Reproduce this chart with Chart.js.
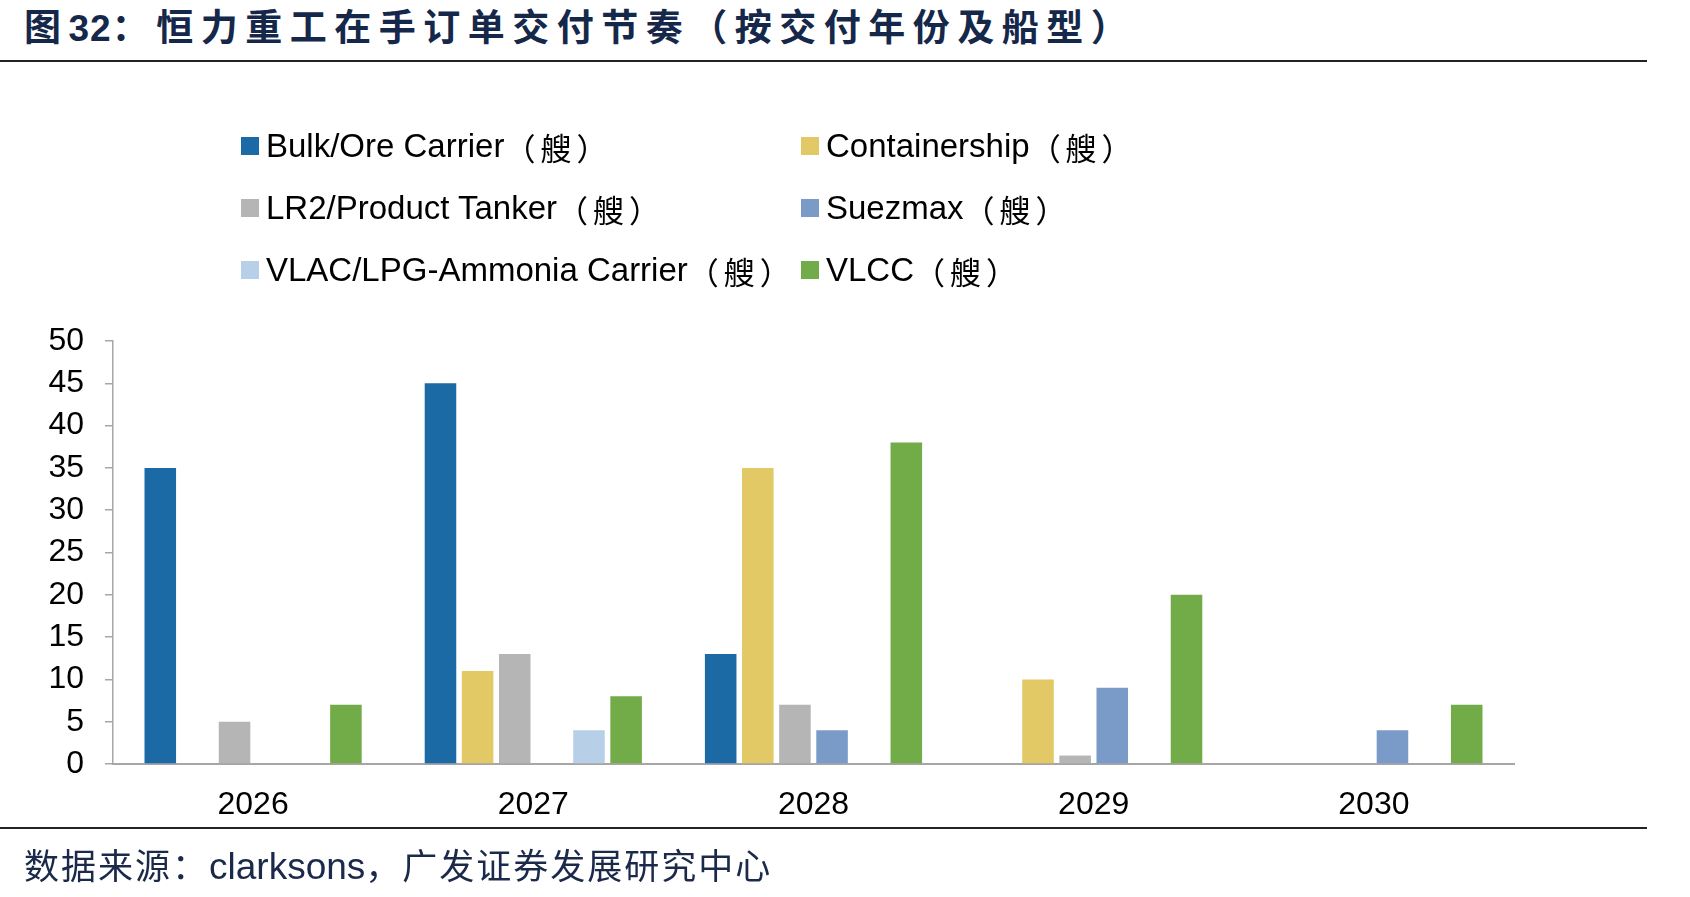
<!DOCTYPE html>
<html>
<head>
<meta charset="utf-8">
<script src="https://cdn.jsdelivr.net/npm/chart.js@4.4.1/dist/chart.umd.min.js"></script>
<style>
    html, body { margin: 0; padding: 0; background: #fff; }
    body { width: 1690px; height: 897px; position: relative; overflow: hidden; }
    #fleetChart { position: absolute; left: 0; top: 0; }
    .title {
        position: absolute; left: 24px; top: -2px;
        font-family: 'Noto Sans CJK SC', sans-serif; font-weight: 700;
        font-size: 37px; letter-spacing: 7.5px; color: #15284a; white-space: nowrap;
    }
    .title .num { font-family: 'Liberation Sans', sans-serif; letter-spacing: 1px; }
    .rule { position: absolute; left: 0; width: 1647px; height: 2px; background: #222; }
    .source {
        position: absolute; left: 24px; top: 838px;
        font-family: 'Noto Sans CJK SC', sans-serif; font-size: 35px; letter-spacing: 2px;
        color: #1b2a4a; white-space: nowrap;
    }
    .source .lat { font-family: 'Liberation Sans', sans-serif; font-size: 37px; letter-spacing: 0; margin-left: 0; }
    .legend-item {
        position: absolute; height: 40px; display: flex; align-items: center;
        font-family: 'Liberation Sans', sans-serif;
        font-size: 33px; color: #000; white-space: nowrap;
    }
    .legend-item i { display: inline-block; width: 18px; height: 18px; margin-right: 7px; }
    .legend-item .unit {
        font-family: 'Noto Sans CJK SC', sans-serif; font-size: 31px;
        letter-spacing: 5px; margin-left: 0;
    }
</style>
</head>
<body>
<div class="title">图<span class="num">32</span>：恒力重工在手订单交付节奏（按交付年份及船型）</div>
<div class="rule" style="top:60px"></div>
<canvas id="fleetChart" width="1690" height="897"></canvas>
<div id="legend"></div>
<div class="rule" style="top:827px"></div>
<div class="source">数据来源：<span class="lat">clarksons</span>，广发证券发展研究中心</div>

<script>
// delivery years
const years = ['2026', '2027', '2028', '2029', '2030'];

// ships per year
const bulkOre    = [35, 45, 13, 0, 0];
const container  = [0, 11, 35, 10, 0];
const lr2Tanker  = [5, 13, 7, 1, 0];
const suezmax    = [0, 0, 4, 9, 4];
const vlacLpg    = [0, 4, 0, 0, 0];
const vlcc       = [7, 8, 38, 20, 7];

const seriesNames = [
    'Bulk/Ore Carrier',
    'Containership',
    'LR2/Product Tanker',
    'Suezmax',
    'VLAC/LPG-Ammonia Carrier',
    'VLCC',
];
const unitLabel = '（艘）';
const seriesColors = ['#1b6aa5', '#e3c866', '#b5b5b5', '#7a9bc8', '#b8cfe8', '#72ac48'];
const yTicks = [0, 5, 10, 15, 20, 25, 30, 35, 40, 45, 50];

const seriesData = [bulkOre, container, lr2Tanker, suezmax, vlacLpg, vlcc];

const ctx = document.getElementById('fleetChart').getContext('2d');
const chart = new Chart(ctx, {
    type: 'bar',
    data: {
        labels: years,
        datasets: seriesData.map((d, i) => ({
            label: seriesNames[i] + unitLabel,
            data: d,
            backgroundColor: seriesColors[i],
            borderWidth: 0,
            categoryPercentage: 0.795,
            barPercentage: 0.85,
        })),
    },
    options: {
        responsive: false,
        animation: false,
        devicePixelRatio: 1,
        layout: { padding: { left: 0, top: 341, right: 176, bottom: 0 } },
        plugins: {
            legend: { display: false },
            tooltip: { enabled: false },
        },
        scales: {
            x: {
                grid: { display: false },
                border: { display: true, color: '#a6a6a6', width: 2 },
                ticks: {
                    color: '#000',
                    font: { family: 'Liberation Sans', size: 32 },
                    padding: 14,
                },
                afterFit: (s) => { s.height = 133; },
            },
            y: {
                min: 0,
                max: 50,
                afterBuildTicks: (s) => { s.ticks = yTicks.map(v => ({ value: v })); },
                grid: {
                    drawOnChartArea: false,
                    drawTicks: true,
                    tickLength: 8,
                    color: '#a6a6a6',
                    lineWidth: 1.5,
                },
                border: { display: true, color: '#a6a6a6', width: 1.5 },
                ticks: {
                    color: '#000',
                    font: { family: 'Liberation Sans', size: 32 },
                    padding: 21,
                },
                afterFit: (s) => { s.width = 113; },
            },
        },
    },
});

// two-column legend, built from the datasets
const legendEl = document.getElementById('legend');
const colX = [241, 801];
const rowY = [126, 188, 250];
chart.data.datasets.forEach((ds, i) => {
    const item = document.createElement('div');
    item.className = 'legend-item';
    item.style.left = colX[i % 2] + 'px';
    item.style.top = rowY[Math.floor(i / 2)] + 'px';
    const name = ds.label.replace(unitLabel, '');
    item.innerHTML = `<i style="background:${ds.backgroundColor}"></i>${name}<span class="unit">${unitLabel}</span>`;
    legendEl.appendChild(item);
});
</script>
</body>
</html>
